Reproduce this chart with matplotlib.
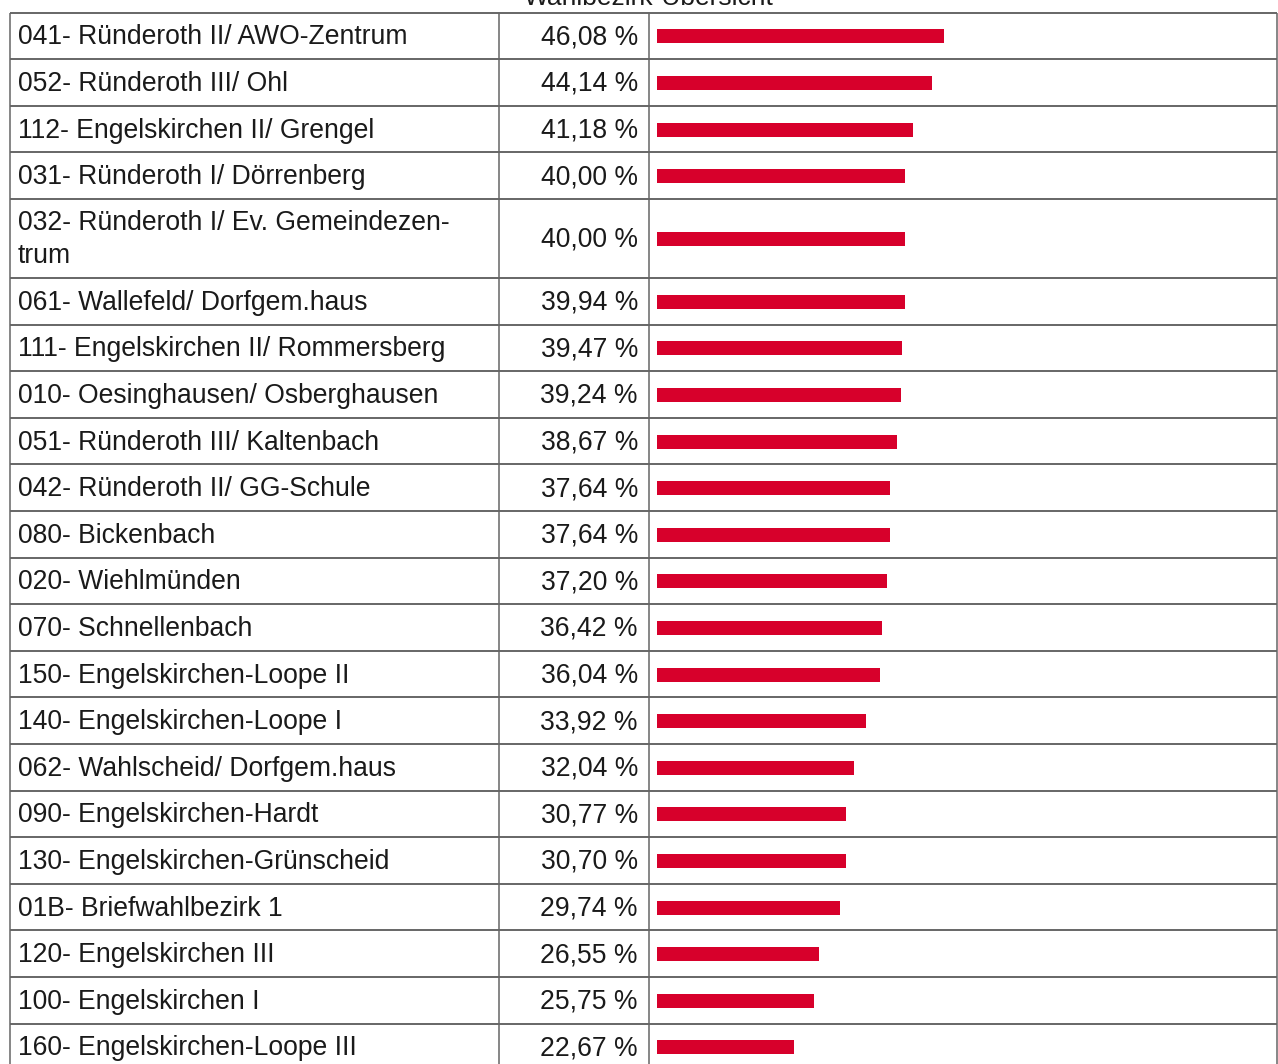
import matplotlib
matplotlib.use("Agg")
import matplotlib.pyplot as plt

plt.rcParams['font.family'] = ['Liberation Sans', 'DejaVu Sans']

# data
districts = [
    "041- Ründeroth II/ AWO-Zentrum",
    "052- Ründeroth III/ Ohl",
    "112- Engelskirchen II/ Grengel",
    "031- Ründeroth I/ Dörrenberg",
    "032- Ründeroth I/ Ev. Gemeindezen-\ntrum",
    "061- Wallefeld/ Dorfgem.haus",
    "111- Engelskirchen II/ Rommersberg",
    "010- Oesinghausen/ Osberghausen",
    "051- Ründeroth III/ Kaltenbach",
    "042- Ründeroth II/ GG-Schule",
    "080- Bickenbach",
    "020- Wiehlmünden",
    "070- Schnellenbach",
    "150- Engelskirchen-Loope II",
    "140- Engelskirchen-Loope I",
    "062- Wahlscheid/ Dorfgem.haus",
    "090- Engelskirchen-Hardt",
    "130- Engelskirchen-Grünscheid",
    "01B- Briefwahlbezirk 1",
    "120- Engelskirchen III",
    "100- Engelskirchen I",
    "160- Engelskirchen-Loope III",
]
percent = [46.08, 44.14, 41.18, 40.00, 40.00, 39.94, 39.47, 39.24, 38.67, 37.64,
           37.64, 37.20, 36.42, 36.04, 33.92, 32.04, 30.77, 30.70, 29.74, 26.55,
           25.75, 22.67]
title = "Wahlbezirk-Übersicht"

W, H = 1278, 1064
fig = plt.figure(figsize=(W / 100, H / 100), dpi=100)
ax = fig.add_axes([0, 0, 1, 1])
ax.set_xlim(0, W)
ax.set_ylim(H, 0)
ax.axis('off')

# table layout (pixels)
top = 12.5
row_h = 46.6
line_h = 32.4
x_left, x_mid, x_val, x_right = 10, 499, 649, 1277
grid_c = '#666666'
text_c = '#1a1a1a'
fs = 19.1

edges = [top]
centers = []
for name in districts:
    h = row_h + line_h * (name.count('\n'))
    centers.append(edges[-1] + h / 2)
    edges.append(edges[-1] + h)

for y in edges:
    ax.plot([x_left, x_right], [y, y], color=grid_c, lw=1.4, solid_capstyle='butt')
for x in (x_left, x_mid, x_val, x_right):
    ax.plot([x, x], [top, H + 20], color=grid_c, lw=1.1, solid_capstyle='butt')

for name, val, yc in zip(districts, percent, centers):
    ax.text(18, yc + 1.5, name, ha='left', va='center', fontsize=fs,
            color=text_c, linespacing=1.35)
    ax.text(638, yc + 1.5, f"{val:.2f} %".replace('.', ','), ha='right',
            va='center', fontsize=fs, color=text_c)

ax.text(649, 5, title, ha='center', va='baseline', fontsize=19, color=text_c)

# bars: scale starts at the column edge, first pixels hidden by cell padding
bx0 = 657
px_per_pct = 6.41
x_start = (bx0 - x_val) / px_per_pct
bax = fig.add_axes([bx0 / W, 0, (W - bx0) / W, 1])
bax.set_ylim(H, 0)
bax.set_xlim(x_start, x_start + (W - bx0) / px_per_pct)
bax.axis('off')
bax.patch.set_alpha(0)
bax.barh([c + 0.5 for c in centers], percent, height=14, left=0,
         color='#d7002b')

fig.savefig('out.png', dpi=100)
